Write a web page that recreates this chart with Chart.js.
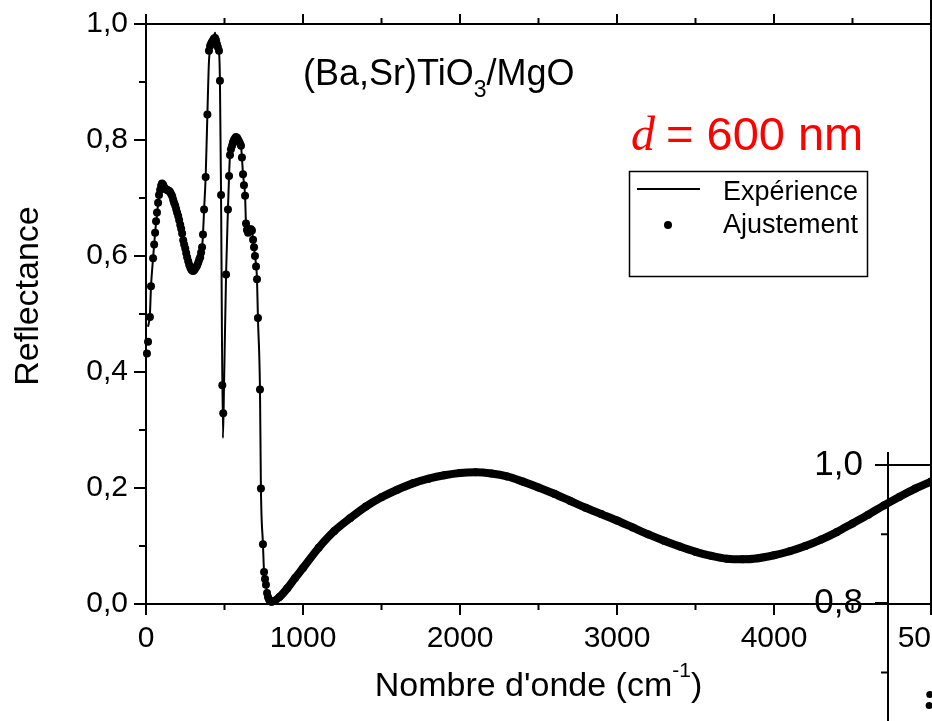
<!DOCTYPE html>
<html lang="fr">
<head>
<meta charset="UTF-8">
<title>Reflectance (Ba,Sr)TiO3/MgO</title>
<script src="https://cdn.jsdelivr.net/npm/chart.js"></script>
<style>
  html, body { margin: 0; padding: 0; background: #fff; overflow: hidden; }
  body { width: 932px; height: 721px; position: relative; }
  #main { position: absolute; left: 0; top: 0; width: 990px; height: 721px; }
  #next { position: absolute; left: 780px; top: 430px; width: 952px; height: 621px; }
</style>
</head>
<body>
<div id="main"><canvas id="reflChart"></canvas></div>
<div id="next"><canvas id="nextChart"></canvas></div>
<script>
// low wavenumber part (phonon region), measured spectrum
const expLowWave = [13, 25, 32, 45, 57, 70, 83, 96, 108, 121, 134, 153, 172, 185, 204, 217, 229, 248, 261, 274,
  293, 312, 331, 344, 357, 363, 370, 380, 391, 401, 414, 427, 440, 446, 458, 465, 471, 478, 490, 497,
  510, 522, 529, 535, 548, 567, 586, 605, 611, 618, 631, 637, 650, 663, 675, 682, 694, 707, 713, 726,
  732, 745, 752, 764, 771, 785, 800];
const expLowRefl = [0.478, 0.50, 0.548, 0.596, 0.637, 0.672, 0.702, 0.72, 0.725, 0.719, 0.715, 0.711, 0.699, 0.688, 0.67, 0.654, 0.638, 0.613, 0.598, 0.585,
  0.574, 0.578, 0.588, 0.598, 0.615, 0.637, 0.68, 0.736, 0.844, 0.935, 0.962, 0.972, 0.985, 0.972, 0.957, 0.952, 0.90, 0.705, 0.286, 0.377,
  0.568, 0.68, 0.738, 0.774, 0.79, 0.803, 0.80, 0.79, 0.77, 0.741, 0.704, 0.656, 0.64, 0.645, 0.644, 0.628, 0.60, 0.56, 0.493, 0.37,
  0.199, 0.103, 0.055, 0.033, 0.019, 0.008, 0.004];

// low wavenumber part, fitted model points
const fitLowWave = [6, 13, 25, 32, 45, 52, 58, 64, 70, 77, 83, 90, 96, 102, 109, 115, 122, 128, 135, 141,
  148, 154, 160, 167, 173, 179, 186, 192, 198, 205, 211, 218, 224, 230, 237, 243, 250, 256, 262, 269,
  275, 282, 288, 294, 301, 307, 313, 320, 326, 333, 339, 345, 351, 357, 363, 370, 380, 391, 401, 408,
  414, 420, 427, 433, 440, 446, 452, 458, 465, 471, 478, 486, 492, 510, 522, 529, 535, 541, 548, 554,
  560, 567, 573, 580, 586, 592, 599, 605, 611, 618, 624, 631, 637, 643, 650, 656, 662, 669, 675, 682,
  688, 694, 701, 707, 713, 726, 732, 745, 752, 758, 764, 771, 777, 783, 790];
const fitLowRefl = [0.432, 0.452, 0.495, 0.548, 0.596, 0.62, 0.64, 0.66, 0.675, 0.692, 0.705, 0.714, 0.721, 0.725, 0.723, 0.719, 0.716, 0.715, 0.714, 0.713,
  0.712, 0.71, 0.707, 0.703, 0.697, 0.692, 0.687, 0.681, 0.675, 0.669, 0.662, 0.654, 0.647, 0.639, 0.627, 0.62, 0.613, 0.605, 0.598, 0.591,
  0.585, 0.58, 0.577, 0.575, 0.574, 0.576, 0.578, 0.581, 0.584, 0.589, 0.594, 0.598, 0.606, 0.615, 0.637, 0.68, 0.736, 0.844, 0.954, 0.962,
  0.966, 0.969, 0.972, 0.975, 0.976, 0.972, 0.965, 0.96, 0.954, 0.902, 0.705, 0.377, 0.329, 0.568, 0.68, 0.738, 0.774, 0.784, 0.79, 0.796,
  0.80, 0.803, 0.805, 0.804, 0.801, 0.798, 0.794, 0.79, 0.77, 0.741, 0.722, 0.704, 0.656, 0.645, 0.64, 0.642, 0.646, 0.646, 0.644, 0.628,
  0.615, 0.60, 0.582, 0.56, 0.493, 0.37, 0.199, 0.103, 0.055, 0.043, 0.033, 0.019, 0.012, 0.008, 0.005];

// interference fringes above 800 cm-1 (measure and fit overlap)
const bandWave = [800, 850, 900, 950, 1000, 1100, 1200, 1300, 1400, 1500, 1600, 1700, 1800, 1900, 2000, 2100, 2200, 2300, 2400, 2500,
  2600, 2700, 2800, 2900, 3000, 3100, 3200, 3300, 3400, 3500, 3600, 3700, 3800, 3900, 4000, 4100, 4200, 4300, 4400, 4500,
  4600, 4700, 4800, 4900, 5000];
const bandRefl = [0.004, 0.012, 0.027, 0.045, 0.062, 0.097, 0.126, 0.148, 0.168, 0.184, 0.197, 0.208, 0.216, 0.222, 0.226, 0.227, 0.225, 0.220, 0.211, 0.201,
  0.190, 0.178, 0.166, 0.155, 0.144, 0.132, 0.120, 0.109, 0.099, 0.090, 0.083, 0.078, 0.077, 0.079, 0.084, 0.091, 0.100, 0.111, 0.124, 0.139,
  0.154, 0.170, 0.185, 0.199, 0.211];

const xMinorTicks = [500, 1500, 2500, 3500, 4500];
const xTopTicks = [0, 500, 1000, 1500, 2000, 2500, 3000, 3500, 4000, 4500, 5000];
const yMinorTicks = [0.1, 0.3, 0.5, 0.7, 0.9];
const seriesNames = ['Expérience', 'Ajustement'];

// next panel (thicker film), only its corner is in view
const nextWave = [262, 266];
const nextRefl = [0.652, 0.668];
const nextMinorTicks = [0.9, 0.7, 0.5, 0.3];

const FONT = "'Liberation Sans', Arial, sans-serif";
const comma = v => v.toFixed(1).replace('.', ',');
const pts = (xs, ys) => xs.map((x, i) => ({ x: x, y: ys[i] }));

// frame, outward minor ticks and top ticks
const frameTicks = {
  id: 'frameTicks',
  afterDraw(chart, args, o) {
    const { ctx, chartArea: a } = chart;
    const sx = chart.scales.x, sy = chart.scales.y;
    ctx.save();
    ctx.strokeStyle = '#000';
    ctx.lineWidth = 2;
    ctx.beginPath();
    if (o.box) {
      ctx.moveTo(a.left, a.top); ctx.lineTo(a.right + 1, a.top);
      ctx.moveTo(a.right, 0); ctx.lineTo(a.right, a.bottom);
    }
    (o.xMinor || []).forEach(v => {
      const px = sx.getPixelForValue(v);
      ctx.moveTo(px, a.bottom); ctx.lineTo(px, a.bottom + 6);
    });
    (o.xTop || []).forEach(v => {
      const px = sx.getPixelForValue(v);
      const len = v % 1000 === 0 ? 10 : 6;
      ctx.moveTo(px, a.top); ctx.lineTo(px, a.top - len);
    });
    (o.yMinor || []).forEach(v => {
      const py = sy.getPixelForValue(v);
      ctx.moveTo(a.left, py); ctx.lineTo(a.left - 7, py);
    });
    ctx.stroke();
    ctx.restore();
  }
};

// sample name, thickness, legend box and axis titles
const notes = {
  id: 'notes',
  afterDraw(chart) {
    const { ctx, chartArea: a } = chart;
    const ds = chart.data.datasets;
    ctx.save();
    ctx.textBaseline = 'alphabetic';
    ctx.textAlign = 'left';
    ctx.fillStyle = '#000';

    // (Ba,Sr)TiO3/MgO
    let x = 303;
    ctx.font = '36px ' + FONT;
    ctx.fillText('(Ba,Sr)TiO', x, 85);
    x += ctx.measureText('(Ba,Sr)TiO').width;
    ctx.font = '23px ' + FONT;
    ctx.fillText('3', x, 97);
    x += ctx.measureText('3').width;
    ctx.font = '36px ' + FONT;
    ctx.fillText('/MgO', x, 85);

    // d = 600 nm
    ctx.fillStyle = '#ff0000';
    ctx.font = "italic 48px 'Liberation Serif', serif";
    ctx.fillText('d', 631, 150);
    ctx.font = '47px ' + FONT;
    ctx.fillText('= 600 nm', 666, 150);

    // legend
    ctx.strokeStyle = '#000';
    ctx.lineWidth = 1.5;
    ctx.strokeRect(629.5, 171.5, 238, 105);
    ctx.strokeStyle = ds[0].borderColor;
    ctx.lineWidth = 2;
    ctx.beginPath();
    ctx.moveTo(637, 189); ctx.lineTo(700, 189);
    ctx.stroke();
    ctx.fillStyle = ds[1].backgroundColor;
    ctx.beginPath();
    ctx.arc(668, 225, 4, 0, Math.PI * 2);
    ctx.fill();
    ctx.fillStyle = '#000';
    ctx.font = '27px ' + FONT;
    ctx.fillText(ds[0].label, 723, 200);
    ctx.fillText(ds[1].label, 723, 233);

    // Nombre d'onde (cm-1)
    ctx.font = '34px ' + FONT;
    const t1 = "Nombre d'onde (cm", t3 = ')';
    const w1 = ctx.measureText(t1).width, w3 = ctx.measureText(t3).width;
    ctx.font = '21px ' + FONT;
    const t2 = '-1', w2 = ctx.measureText(t2).width;
    let tx = (a.left + a.right) / 2 - (w1 + w2 + w3) / 2;
    ctx.font = '34px ' + FONT;
    ctx.fillText(t1, tx, 696);
    tx += w1;
    ctx.font = '21px ' + FONT;
    ctx.fillText(t2, tx, 677);
    tx += w2;
    ctx.font = '34px ' + FONT;
    ctx.fillText(t3, tx, 696);

    // Reflectance
    ctx.translate(29, 296);
    ctx.rotate(-Math.PI / 2);
    ctx.textAlign = 'center';
    ctx.textBaseline = 'middle';
    ctx.fillText('Reflectance', 0, 0);
    ctx.restore();
  }
};

const tickFont = { family: FONT, size: 30 };

new Chart(document.getElementById('reflChart'), {
  type: 'scatter',
  data: {
    datasets: [
      {
        label: seriesNames[0],
        data: pts(expLowWave.concat(bandWave.slice(1)), expLowRefl.concat(bandRefl.slice(1))),
        showLine: true,
        borderColor: '#000',
        borderWidth: 2,
        pointRadius: 0,
        cubicInterpolationMode: 'monotone',
        clip: 6
      },
      {
        label: seriesNames[1],
        data: pts(fitLowWave.concat(bandWave), fitLowRefl.concat(bandRefl)),
        showLine: true,
        borderColor: '#000',
        backgroundColor: '#000',
        borderWidth: 8,
        pointRadius: 4,
        pointBorderWidth: 0,
        cubicInterpolationMode: 'monotone',
        // dense fit above 800 cm-1 merges into a thick band
        segment: {
          borderColor: c => c.p0.parsed.x >= 790 ? '#000' : 'rgba(0,0,0,0)'
        },
        clip: { left: 6, top: 6, right: 0, bottom: 6 }
      }
    ]
  },
  options: {
    responsive: true,
    maintainAspectRatio: false,
    animation: false,
    events: [],
    layout: { padding: { left: 0, top: 20, right: 59, bottom: 0 } },
    plugins: {
      legend: { display: false },
      tooltip: { enabled: false },
      frameTicks: { box: true, xMinor: xMinorTicks, xTop: xTopTicks, yMinor: yMinorTicks }
    },
    scales: {
      x: {
        type: 'linear',
        min: 0,
        max: 5000,
        ticks: { stepSize: 1000, color: '#000', font: tickFont, padding: 6, maxRotation: 0, autoSkip: false, callback: v => String(v) },
        grid: { drawOnChartArea: false, tickLength: 11, color: '#000', lineWidth: 2 },
        border: { color: '#000', width: 2 },
        afterFit: s => { s.height = 117; }
      },
      y: {
        min: 0,
        max: 1,
        ticks: { stepSize: 0.2, color: '#000', font: tickFont, padding: 6, callback: v => comma(v) },
        grid: { drawOnChartArea: false, tickLength: 12, color: '#000', lineWidth: 2 },
        border: { color: '#000', width: 2 },
        afterFit: s => { s.width = 146; }
      }
    }
  },
  plugins: [frameTicks, notes]
});

new Chart(document.getElementById('nextChart'), {
  type: 'scatter',
  data: {
    datasets: [{
      label: seriesNames[1],
      data: pts(nextWave, nextRefl),
      backgroundColor: '#000',
      pointRadius: 3.5,
      pointBorderWidth: 0
    }]
  },
  options: {
    responsive: true,
    maintainAspectRatio: false,
    animation: false,
    events: [],
    layout: { padding: { left: 0, top: 22, right: 59, bottom: 30 } },
    plugins: {
      legend: { display: false },
      tooltip: { enabled: false },
      frameTicks: { yMinor: nextMinorTicks }
    },
    scales: {
      x: {
        type: 'linear',
        position: 'top',
        min: 0,
        max: 5000,
        ticks: { display: false, stepSize: 1000 },
        grid: { drawOnChartArea: false, tickLength: 13, color: '#000', lineWidth: 2 },
        border: { color: '#000', width: 2 },
        afterFit: s => { s.height = 13; }
      },
      y: {
        min: 0.2,
        max: 1,
        ticks: { stepSize: 0.2, color: '#000', font: { family: FONT, size: 35 }, padding: 12, callback: v => comma(v) },
        grid: { drawOnChartArea: false, tickLength: 13, color: '#000', lineWidth: 2 },
        border: { color: '#000', width: 2 },
        afterFit: s => { s.width = 108; }
      }
    }
  },
  plugins: [frameTicks]
});
</script>
</body>
</html>
